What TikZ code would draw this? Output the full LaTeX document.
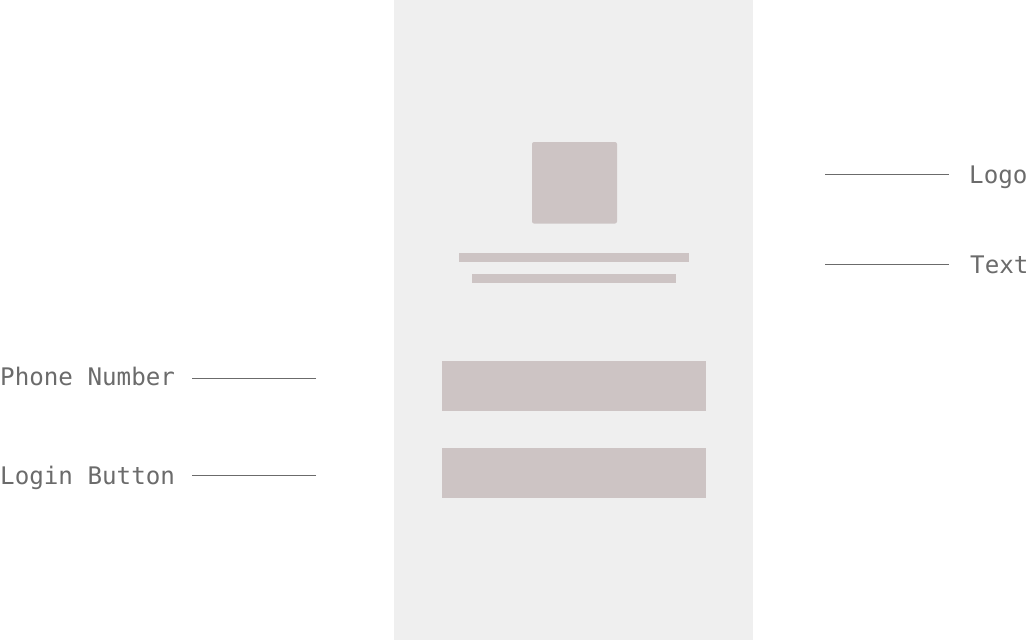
\documentclass[tikz,border=0pt]{standalone}
\usepackage{fontspec}
\setmonofont{DejaVu Sans Mono}
\definecolor{panelgray}{HTML}{EFEFEF}
\definecolor{blockgray}{HTML}{CDC4C4}
\definecolor{labelgray}{HTML}{6B6B6B}
\begin{document}
\begin{tikzpicture}[x=1pt, y=-1pt,
		tag/.style={inner sep=0pt, anchor=base west, text=labelgray, font=\ttfamily\fontsize{24.2}{28}\selectfont},
		leader/.style={draw=labelgray, line width=0.8pt},
		block/.style={fill=blockgray}]
		\useasboundingbox (0,0) rectangle (1028,640);
		\fill[color=panelgray] (394,0) rectangle (753,640);
		
		\fill[block, rounded corners=2pt] (532,142) rectangle (617,223.5);
		\fill[block] (459,253) rectangle (689,262);
		\fill[block] (472,274) rectangle (676,283);
		\fill[block] (442,361) rectangle (706,410.5);
		\fill[block] (442,448) rectangle (706,497.5);
		
		\node[tag] (phone) at (0,385) {Phone Number};
		\node[tag] (login) at (0,484) {Login Button};
		\node[tag] (logo) at (969,183) {Logo};
		\node[tag] (text) at (970,273) {Text};
		
		\coordinate (phoneEnd) at (316,378);
		\coordinate (loginEnd) at (316,475);
		\coordinate (logoEnd) at (825,174);
		\coordinate (textEnd) at (825,264);
		
		\draw[leader] (phoneEnd) -- (phoneEnd -| {192,0});
		\draw[leader] (loginEnd) -- (loginEnd -| {192,0});
		\draw[leader] (logoEnd) -- (logoEnd -| {949,0});
		\draw[leader] (textEnd) -- (textEnd -| {949,0});
	\end{tikzpicture}
\end{document}
